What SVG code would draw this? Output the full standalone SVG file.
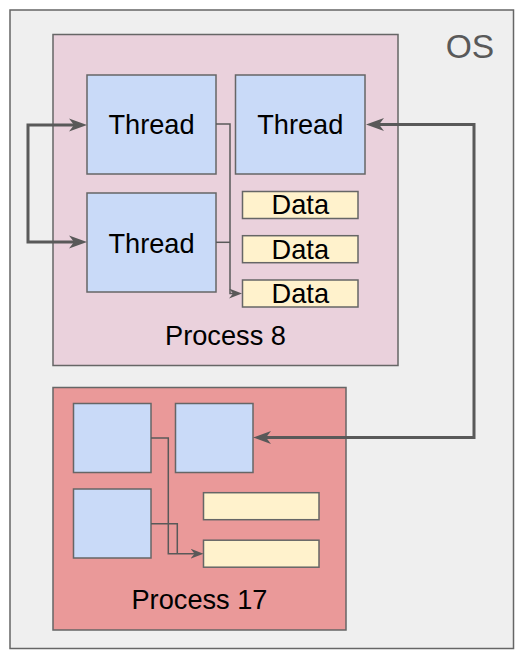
<svg xmlns="http://www.w3.org/2000/svg" width="529" height="655" viewBox="0 0 529 655">
<style>
.box{stroke:#666666;stroke-width:1.5}
.os{fill:#efefef}
.p8{fill:#ead1dc}
.p17{fill:#ea9999}
.th{fill:#c9daf8}
.dt{fill:#fff2cc}
text{font-family:"Liberation Sans",Arial,sans-serif;font-size:27.2px;fill:#000;text-anchor:middle}
.thick{fill:none;stroke:#595959;stroke-width:3}
.thin{fill:none;stroke:#595959;stroke-width:1.5}
</style>
<defs>
<marker id="ahb" viewBox="0 0 20 14" markerWidth="20" markerHeight="14" refX="13" refY="7" orient="auto-start-reverse" markerUnits="userSpaceOnUse">
<path d="M19,7 L1,0.5 L6,7 L1,13.5 Z" fill="#595959"/>
</marker>
<marker id="ahs" viewBox="0 0 14 10" markerWidth="14" markerHeight="10" refX="9" refY="5" orient="auto" markerUnits="userSpaceOnUse">
<path d="M13,5 L0,0 L4,5 L0,10 Z" fill="#595959"/>
</marker>
</defs>
<g id="os">
<rect class="box os" x="10" y="10" width="503.5" height="638.5"/>
<text x="470" y="57.5" style="font-size:33.6px;fill:#595959">OS</text>
</g>
<g id="process8">
<rect class="box p8" x="53" y="34.5" width="345" height="331"/>
<text x="225.5" y="345.3">Process 8</text>
</g>
<g id="p8-thread1">
<rect class="box th" x="87" y="75" width="129" height="99"/>
<text x="151.5" y="134">Thread</text>
</g>
<g id="p8-thread2">
<rect class="box th" x="235.5" y="75" width="129.5" height="99"/>
<text x="300.3" y="134">Thread</text>
</g>
<g id="p8-thread3">
<rect class="box th" x="87" y="193" width="129" height="99"/>
<text x="151.5" y="252.5">Thread</text>
</g>
<g id="p8-data1">
<rect class="box dt" x="242.5" y="191.5" width="115.5" height="27"/>
<text x="300.3" y="214.3">Data</text>
</g>
<g id="p8-data2">
<rect class="box dt" x="242.5" y="235.7" width="115.5" height="27"/>
<text x="300.3" y="258.8">Data</text>
</g>
<g id="p8-data3">
<rect class="box dt" x="242.5" y="280" width="115.5" height="27"/>
<text x="300.3" y="303.2">Data</text>
</g>
<g id="process17">
<rect class="box p17" x="53" y="387.5" width="293" height="242.5"/>
<text x="199.5" y="609">Process 17</text>
</g>
<g id="p17-thread1">
<rect class="box th" x="73.5" y="403.5" width="77.5" height="69"/>
</g>
<g id="p17-thread2">
<rect class="box th" x="175.5" y="403.5" width="77.5" height="69"/>
</g>
<g id="p17-thread3">
<rect class="box th" x="73.5" y="489" width="77.5" height="69"/>
</g>
<g id="p17-data1">
<rect class="box dt" x="203.5" y="492.7" width="115.5" height="27"/>
</g>
<g id="p17-data2">
<rect class="box dt" x="203.5" y="540.2" width="115.5" height="27"/>
</g>
<g id="connectors">
<path class="thick" d="M81,125 H28 V242 H81" marker-start="url(#ahb)" marker-end="url(#ahb)"/>
<path class="thick" d="M372,124.5 H474 V437.5 H259" marker-start="url(#ahb)" marker-end="url(#ahb)"/>
<path class="thin" d="M216,124 H230 V293.5 H238" marker-end="url(#ahs)"/>
<path class="thin" d="M216,242.3 H230"/>
<path class="thin" d="M151,438 H168.3 V553.7 H199.5" marker-end="url(#ahs)"/>
<path class="thin" d="M151,523.7 H177.3 V553.7"/>
</g>
</svg>
